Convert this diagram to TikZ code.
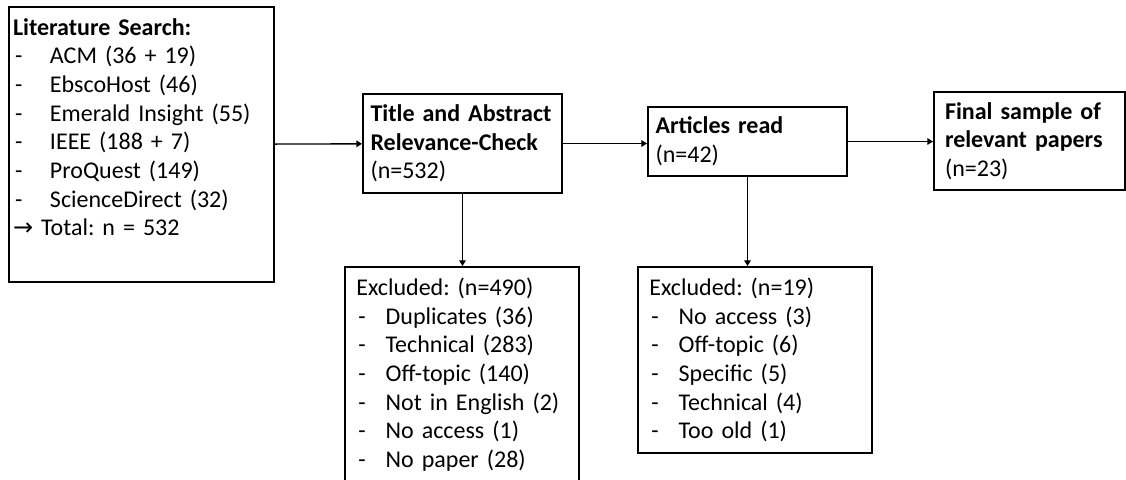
\documentclass[tikz,border=0pt]{standalone}
\usepackage{fontspec}
\setmainfont{Carlito}
\newfontfamily\arrowfont{DejaVu Sans}
\usepackage{tikz}
\usetikzlibrary{arrows.meta}
\frenchspacing
\newcommand{\ditem}[2][22pt]{\makebox[#1][l]{\hspace{1.5pt}-}#2}
\tikzset{
  srcbox/.style={draw,line width=1.5pt,align=left,font=\fontsize{18}{21.5}\selectfont,inner xsep=3pt,inner ysep=4pt},
  stagebox/.style={draw,line width=1.5pt,align=left,font=\fontsize{18}{21.5}\selectfont,inner xsep=5.6pt,inner ysep=0pt},
  exclbox/.style={draw,line width=1.5pt,align=left,font=\fontsize{18}{21.5}\selectfont,inner xsep=8.5pt,inner ysep=0pt},
  flow/.style={-{Triangle[length=4.3pt,width=5pt]},line width=1pt},
}
\begin{document}
\begin{tikzpicture}[x=0.75pt,y=-0.75pt]
  \clip (0,0) rectangle (1126,479);
  % search sources
  \node[srcbox,text width=192.75pt,text height=17pt,text depth=181.25pt] (lit) at (141.5,144.5)
    {\textbf{Literature Search:}\\
     \ditem[27.75pt]{ACM (36 + 19)}\\
     \ditem[27.75pt]{EbscoHost (46)}\\
     \ditem[27.75pt]{Emerald Insight (55)}\\
     \ditem[27.75pt]{IEEE (188 + 7)}\\
     \ditem[27.75pt]{ProQuest (149)}\\
     \ditem[27.75pt]{ScienceDirect (32)}\\
     {\arrowfont\fontsize{18}{21.5}\selectfont →}\ Total: n = 532};
  % screening stages
  \node[stagebox,text width=138pt,minimum height=74.25pt] (title) at (462.5,143.5)
    {\textbf{Title and Abstract}\\ \textbf{Relevance-Check}\\ (n=532)};
  \node[stagebox,text width=138pt,minimum height=51.75pt] (arts) at (747.5,141.5)
    {\textbf{Articles read}\\ (n=42)};
  \node[stagebox,text width=126.75pt,inner xsep=8.25pt,minimum height=73.5pt] (final) at (1029.5,141)
    {\textbf{Final sample of}\\ \textbf{relevant papers}\\ (n=23)};
  \draw[flow] (lit) -- (title);
  \draw[flow] (title.east) -- (title.east -| arts.west);
  \draw[flow] (arts.east) -- (arts.east -| final.west);
  % exclusions
  \node[exclbox,text width=158.5pt,minimum height=161.25pt] (excla) at (462,374.5)
    {Excluded: (n=490)\\
     \ditem{Duplicates (36)}\\
     \ditem{Technical (283)}\\
     \ditem{Off-topic (140)}\\
     \ditem{Not in English (2)}\\
     \ditem{No access (1)}\\
     \ditem{No paper (28)}};
  \node[exclbox,text width=158.5pt,minimum height=139.5pt] (exclb) at (755,360)
    {Excluded: (n=19)\\
     \ditem{No access (3)}\\
     \ditem{Off-topic (6)}\\
     \ditem{Specific (5)}\\
     \ditem{Technical (4)}\\
     \ditem{Too old (1)}};
  \draw[flow] (title.south) -- (title.south |- excla.north);
  \draw[flow] (arts.south) -- (arts.south |- exclb.north);
\end{tikzpicture}
\end{document}
